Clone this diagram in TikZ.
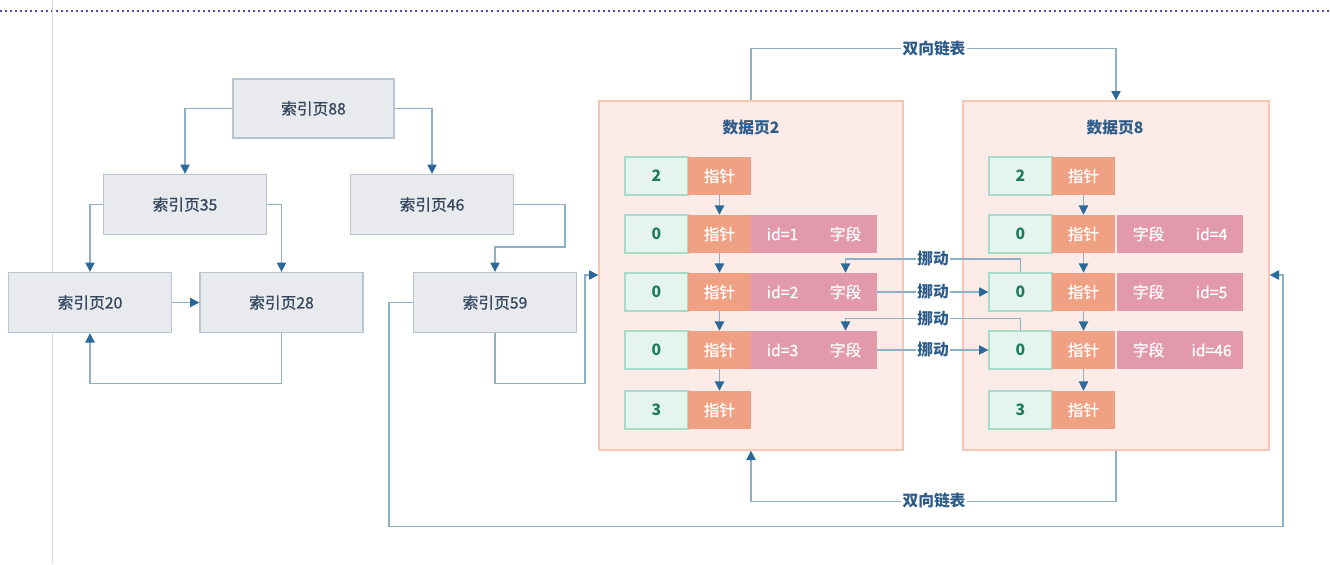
\documentclass[tikz,border=0pt]{standalone}
\usepackage{fontspec}
\setmainfont{Noto Sans CJK SC}
\newfontfamily\medfont{Noto Sans CJK SC}[FakeBold=0.9]
\usetikzlibrary{arrows.meta}
\definecolor{idxfill}{HTML}{E8EAEE}
\definecolor{idxdraw}{HTML}{B8C4D0}
\definecolor{idxtext}{HTML}{34475E}
\definecolor{pgfill}{HTML}{FCEBE6}
\definecolor{pgdraw}{HTML}{F4C7B5}
\definecolor{tealfill}{HTML}{E6F4EE}
\definecolor{tealdraw}{HTML}{A9DCC8}
\definecolor{tealtext}{HTML}{1E7B5C}
\definecolor{orangec}{HTML}{F0A183}
\definecolor{pinkc}{HTML}{E299AB}
\definecolor{titletext}{HTML}{2D5C8A}
\definecolor{linec}{HTML}{8DB0C7}
\definecolor{tipc}{HTML}{2A6A9A}
\definecolor{dotc}{HTML}{4A4AB5}
\definecolor{sidec}{HTML}{DCDCDC}
\tikzset{
  txt/.style={font=\fontsize{11.8}{13}\selectfont\medfont},
  bld/.style={font=\fontsize{11.8}{13}\selectfont\bfseries},
  idx/.style={txt, rectangle, fill=idxfill, draw=idxdraw, line width=1pt, inner sep=0pt,
    minimum width=163*0.75pt, minimum height=60*0.75pt, text=idxtext},
  page/.style={rectangle, fill=pgfill, draw=pgdraw, line width=1pt, inner sep=0pt,
    minimum height=349*0.75pt},
  ptitle/.style={bld, text=titletext},
  cellbase/.style={txt, rectangle, inner sep=0pt, minimum width=63*0.75pt, minimum height=38*0.75pt},
  tealcell/.style={cellbase, fill=tealfill, draw=tealdraw, line width=1pt, text=tealtext, bld},
  orcell/.style={cellbase, fill=orangec, text=white},
  pkcell/.style={cellbase, fill=pinkc, text=white},
  conn/.style={draw=linec, line width=1pt, -{Triangle[length=7pt,width=7pt,color=tipc]}},
  lbl/.style={bld, text=titletext, fill=white, inner sep=1pt},
}
\begin{document}
\begin{tikzpicture}[x=0.75pt,y=-0.75pt]
\useasboundingbox (0,0) rectangle (1330,564);
% screen decorations
\draw[dotc, line width=1.5pt, dash pattern=on 1.5pt off 2.3pt] (0,11) -- (1330,11);
\draw[sidec, line width=0.8pt] (52.5,0) -- (52.5,564);

% index pages
\node[idx, minimum width=161*0.75pt, minimum height=59*0.75pt] (i88) at (313.5,108.5) {索引页88};
\node[idx] (i35) at (185,204.5) {索引页35};
\node[idx] (i46) at (432,204.5) {索引页46};
\node[idx] (i20) at (90,302.5) {索引页20};
\node[idx] (i28) at (281.5,302.5) {索引页28};
\node[idx] (i59) at (495,302.5) {索引页59};

% data pages
\node[page, minimum width=304*0.75pt] (d2) at (751,275.5) {};
\node[page, minimum width=306*0.75pt] (d8) at (1116,275.5) {};
\node[ptitle] (t2) at (751,128) {数据页2};
\node[ptitle] (t8) at (1115,128) {数据页8};

% page 2 rows
\node[tealcell] (a1) at (656.5,176) {2};
\node[orcell]   (b1) at (719.5,176) {指针};
\node[tealcell] (a2) at (656.5,234) {0};
\node[orcell]   (b2) at (719.5,234) {指针};
\node[pkcell]   (c2) at (782.5,234) {id=1};
\node[pkcell]   (e2) at (845.5,234) {字段};
\node[tealcell] (a3) at (656.5,292) {0};
\node[orcell]   (b3) at (719.5,292) {指针};
\node[pkcell]   (c3) at (782.5,292) {id=2};
\node[pkcell]   (e3) at (845.5,292) {字段};
\node[tealcell] (a4) at (656.5,350) {0};
\node[orcell]   (b4) at (719.5,350) {指针};
\node[pkcell]   (c4) at (782.5,350) {id=3};
\node[pkcell]   (e4) at (845.5,350) {字段};
\node[tealcell] (a5) at (656.5,410) {3};
\node[orcell]   (b5) at (719.5,410) {指针};

% page 8 rows
\node[tealcell] (p1) at (1020.5,176) {2};
\node[orcell]   (q1) at (1083.5,176) {指针};
\node[tealcell] (p2) at (1020.5,234) {0};
\node[orcell]   (q2) at (1083.5,234) {指针};
\node[pkcell]   (r2) at (1148.5,234) {字段};
\node[pkcell]   (s2) at (1211.5,234) {id=4};
\node[tealcell] (p3) at (1020.5,292) {0};
\node[orcell]   (q3) at (1083.5,292) {指针};
\node[pkcell]   (r3) at (1148.5,292) {字段};
\node[pkcell]   (s3) at (1211.5,292) {id=5};
\node[tealcell] (p4) at (1020.5,350) {0};
\node[orcell]   (q4) at (1083.5,350) {指针};
\node[pkcell]   (r4) at (1148.5,350) {字段};
\node[pkcell]   (s4) at (1211.5,350) {id=46};
\node[tealcell] (p5) at (1020.5,410) {3};
\node[orcell]   (q5) at (1083.5,410) {指针};

% index tree connectors
\draw[conn] (i88.west) -| (i35.north);
\draw[conn] (i88.east) -| (i46.north);
\draw[conn] (i35.west) -| (i20.north);
\draw[conn] (i35.east) -| (i28.north);
\draw[conn] (i20.east) -- (i28.west);
\draw[conn] (i28.south) -- ++(0,50) -| (i20.south);
\draw[conn] (i46.east) -| (565,247) -| (i59.north);
\draw[conn] (i59.south) -- ++(0,50) -| (585,275) -- (d2.west |- 0,275);
\draw[conn] (i59.west) -| (389,526.5) -| (1283,275) -- (d8.east |- 0,275);

% row pointer arrows
\foreach \u/\v in {b1/b2,b2/b3,b3/b4,b4/b5,q1/q2,q2/q3,q3/q4,q4/q5}
  \draw[conn] (\u.south) -- (\v.north);

% move arrows
\draw[conn] (p3.north) -- ++(0,-13.5) -| (e3.north);
\draw[conn] (e3.east) -- (p3.west);
\draw[conn] (p4.north) -- ++(0,-12) -| (e4.north);
\draw[conn] (e4.east) -- (p4.west);
\node[lbl] (m1) at (933,259) {挪动};
\node[lbl] (m2) at (933,291.5) {挪动};
\node[lbl] (m3) at (933,318.5) {挪动};
\node[lbl] (m4) at (933,350) {挪动};

% doubly linked list
\draw[conn] (d2.north) -- ++(0,-52) -| (d8.north);
\draw[conn] (d8.south) -- ++(0,51) -| (d2.south);
\node[lbl] (l1) at (934,49) {双向链表};
\node[lbl] (l2) at (934,501) {双向链表};
\end{tikzpicture}
\end{document}
